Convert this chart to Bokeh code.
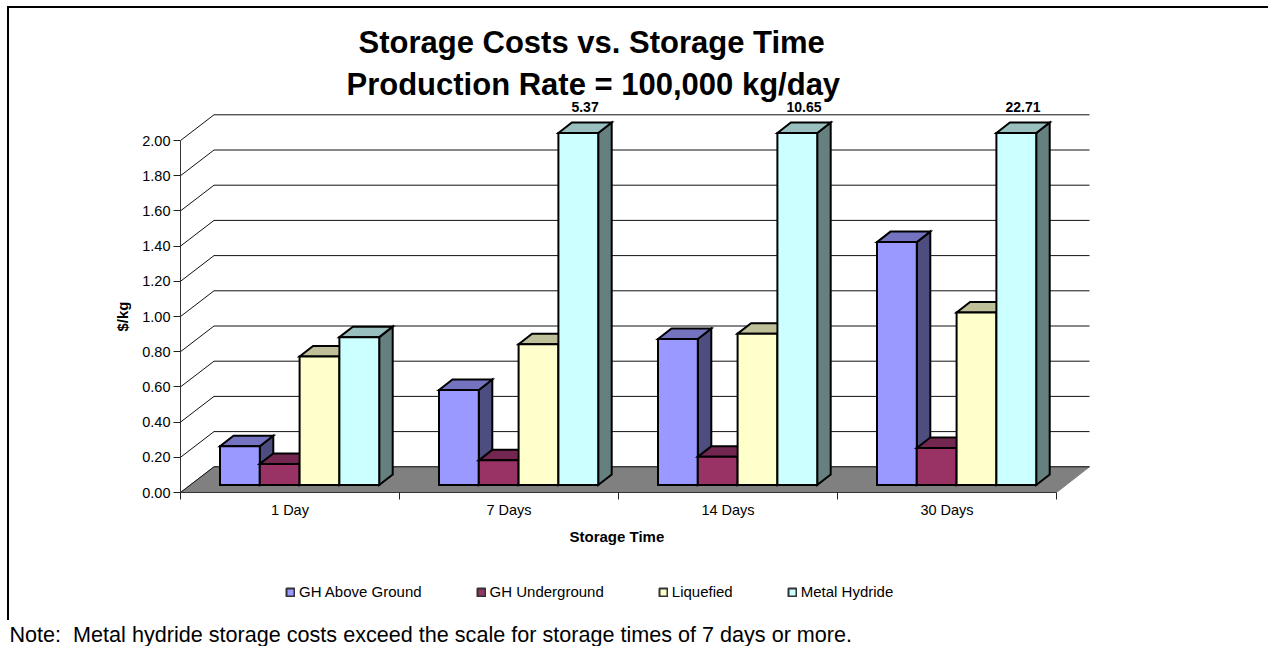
from bokeh.plotting import figure
from bokeh.layouts import column
from bokeh.models import (Range1d, LinearAxis, FixedTicker, Title, Legend, LegendItem, ColumnDataSource)
from bokeh.core.properties import value
from bokeh.embed import file_html
from bokeh.resources import INLINE

title_lines = ["Storage Costs vs. Storage Time", "Production Rate = 100,000 kg/day"]
categories = ["1 Day", "7 Days", "14 Days", "30 Days"]
series = ["GH Above Ground", "GH Underground", "Liquefied", "Metal Hydride"]
gh_above = [0.22, 0.54, 0.83, 1.38]
gh_under = [0.12, 0.14, 0.16, 0.21]
liquefied = [0.73, 0.80, 0.86, 0.98]
metal_hydride = [0.84, 5.37, 10.65, 22.71]
front_colors = ["#9999FF", "#993366", "#FFFFCC", "#CCFFFF"]
top_colors = ["#7373BF", "#732650", "#BFBF99", "#99BFBF"]
side_colors = ["#4D4D80", "#4D1A33", "#808066", "#668080"]
y_ticks = [0, 0.2, 0.4, 0.6, 0.8, 1.0, 1.2, 1.4, 1.6, 1.8, 2.0]
y_max = 2.0
note = "Note:\u00a0 Metal hydride storage costs exceed the scale for storage times of 7 days or more."
FONT = "Liberation Sans"

PX0, PY0 = 180.0, 492.0
UX, UY = 219.0, 176.0
FR_R, FR_T = 1095.0, 101.0
W, H = 1268, 646
H1 = 560
H2 = H - H1

p = figure(width=W, height=H1, output_backend="svg", toolbar_location=None,
           x_axis_type=None, y_axis_type=None,
           x_range=Range1d(0, (FR_R - PX0) / UX), y_range=Range1d(0, (PY0 - FR_T) / UY),
           min_border_left=int(PX0), min_border_right=int(W - FR_R),
           min_border_top=int(FR_T), min_border_bottom=int(H1 - PY0),
           outline_line_color=None, background_fill_color=None, border_fill_color=None,
           frame_align=False)
p.xgrid.visible = False
p.ygrid.visible = False

depth_wall_x, depth_wall_y = 33.5 / UX, 25.7 / UY
depth_bar_x, depth_bar_y = 13.5 / UX, 10.5 / UY
bar_w = 39.8 / UX
base_x, base_y = 39.5 / UX, 7.5 / UY
wall_right = (1089 - PX0) / UX
n = len(categories)

p.patch([0, depth_wall_x, wall_right, n], [0, depth_wall_y, depth_wall_y, 0],
        fill_color="#808080", line_color="#808080", line_width=1)
xs = [[0, depth_wall_x, wall_right] for t in y_ticks]
ys = [[t, t + depth_wall_y, t + depth_wall_y] for t in y_ticks]
p.multi_line(xs, ys, line_color="#111111", line_width=1)

all_series = [gh_above, gh_under, liquefied, metal_hydride]
for s, vals in enumerate(all_series):
    tops = [min(v, y_max) + base_y for v in vals]
    x0 = [i + base_x + s * bar_w for i in range(n)]
    x1 = [x + bar_w for x in x0]
    dx, dy = depth_bar_x, depth_bar_y
    side = ColumnDataSource(dict(
        xs=[[a, a + dx, a + dx, a] for a in x1],
        ys=[[base_y, base_y + dy, t + dy, t] for t in tops]))
    top = ColumnDataSource(dict(
        xs=[[a, a + dx, c + dx, c] for a, c in zip(x0, x1)],
        ys=[[t, t + dy, t + dy, t] for t in tops]))
    p.patches("xs", "ys", source=side, fill_color=side_colors[s], line_color="black",
              line_width=2, line_join="miter")
    p.patches("xs", "ys", source=top, fill_color=top_colors[s], line_color="black",
              line_width=2, line_join="miter")
    p.quad(left=x0, right=x1, bottom=base_y, top=tops,
           fill_color=front_colors[s], line_color="black", line_width=2, line_join="miter")

over = [(i, v) for i, v in enumerate(metal_hydride) if v > y_max]
p.text(x=[i + base_x + 3.5 * bar_w + depth_bar_x / 2 for i, v in over],
       y=[y_max + depth_wall_y for i, v in over],
       text=[f"{v:.2f}" for i, v in over], text_font=value(FONT), text_font_style="bold",
       text_font_size="14px", text_color="black", text_align="center",
       text_baseline="middle", y_offset=-8)

yax = LinearAxis(ticker=FixedTicker(ticks=y_ticks),
                 major_label_overrides={t: f"{t:.2f}" for t in y_ticks},
                 bounds=(0, y_max))
yax.major_tick_in = 0
yax.major_tick_out = 7
yax.minor_tick_line_color = None
yax.major_label_standoff = 3
yax.major_label_text_font = FONT
yax.major_label_text_font_size = "14.5px"
yax.major_label_text_color = "black"
yax.axis_line_color = "#333333"
yax.major_tick_line_color = "#222222"
p.add_layout(yax, "left")

centres = [i + 0.5 for i in range(n)]
xax = LinearAxis(ticker=FixedTicker(ticks=centres, minor_ticks=list(range(n + 1))),
                 major_label_overrides=dict(zip(centres, categories)),
                 bounds=(0, n))
xax.major_tick_line_color = None
xax.major_tick_in = 0
xax.major_tick_out = 0
xax.minor_tick_in = 0
xax.minor_tick_out = 7
xax.minor_tick_line_color = "#222222"
xax.major_label_standoff = 2
xax.major_label_text_font = FONT
xax.major_label_text_font_size = "14.5px"
xax.major_label_text_color = "black"
xax.axis_line_color = "#333333"
p.add_layout(xax, "below")

def ttl(text, side, offset, size, style="bold", standoff=0):
    t = Title(text=text, align="left", offset=offset, standoff=standoff,
              text_font=FONT, text_font_size=size, text_font_style=style, text_color="black")
    p.add_layout(t, side)

ttl("$/kg", "left", 161, "15px", standoff=18)
ttl("Storage Time", "below", 389, "15px", standoff=10)
ttl(title_lines[1], "above", 166, "31px", standoff=0)
ttl(title_lines[0], "above", 178, "31px", standoff=9)

# lower strip: legend and note, on a canvas-sized pixel scale
q = figure(width=W, height=H2, output_backend="svg", toolbar_location=None,
           x_axis_type=None, y_axis_type=None,
           x_range=Range1d(0, W), y_range=Range1d(H, H1),
           min_border_left=0, min_border_right=0, min_border_top=0, min_border_bottom=0,
           outline_line_color=None, background_fill_color=None, border_fill_color=None,
           frame_align=False)
q.xgrid.visible = False
q.ygrid.visible = False
legend_items = []
for s, name in enumerate(series):
    # one off-range row: only its legend swatch shows
    r = q.quad(left=[-20], right=[-10], top=[H + 20], bottom=[H + 10], fill_color=front_colors[s],
               line_color="#333333", line_width=2)
    legend_items.append(LegendItem(label=name, renderers=[r]))
leg = Legend(items=legend_items, orientation="horizontal", location=(285, 46),
             glyph_width=10, glyph_height=10, label_standoff=4, spacing=54,
             padding=0, margin=0, border_line_color=None, background_fill_alpha=0,
             label_text_font=FONT, label_text_font_size="15px", label_text_color="black",
             label_height=14)
q.add_layout(leg, "center")
q.text(x=[9], y=[634], text=[note], text_font=value(FONT), text_font_size="21.6px",
       text_color="black", text_align="left", text_baseline="middle")

page = column(p, q, spacing=0)
page.styles = {
    "background-image": "linear-gradient(black,black),linear-gradient(black,black)",
    "background-size": "2px 614px, 100% 2px",
    "background-position": "7px 6px, 7px 6px",
    "background-repeat": "no-repeat",
}

open("out.html", "w").write(file_html(page, INLINE))
